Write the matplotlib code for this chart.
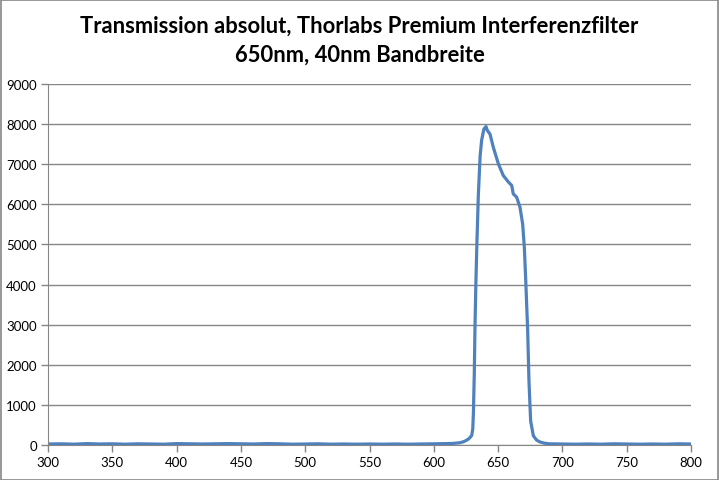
import matplotlib
matplotlib.use('Agg')
import matplotlib.pyplot as plt
from matplotlib.patches import Rectangle

wavelength = [300, 310, 320, 330, 340, 350, 360, 370, 380, 390, 400, 410, 420, 430,
              440, 450, 460, 470, 480, 490, 500, 510, 520, 530, 540, 550, 560, 570,
              580, 590, 600, 610, 615, 620, 623, 625, 627, 628, 629.5, 630.3, 630.8,
              631.5, 632, 632.7, 633.4, 634.6, 636, 637.2, 639, 640.6, 641.5, 643.7,
              646.3, 650.2, 654, 657.9, 660.6, 661.8, 664.4, 667, 669.1, 670.4, 671.5,
              673, 674, 675.3, 677.4, 680, 682.6, 686, 690, 700, 710, 720, 730, 740,
              750, 760, 770, 780, 790, 800]
counts = [25, 30, 20, 35, 25, 30, 20, 30, 25, 20, 35, 30, 25, 30,
          35, 30, 25, 35, 30, 20, 25, 30, 20, 25, 20, 25, 20, 25,
          20, 25, 30, 35, 40, 55, 80, 110, 150, 180, 240, 400, 800,
          1800, 2900, 4000, 4900, 6200, 7200, 7600, 7880, 7940, 7850, 7750,
          7420, 7010, 6720, 6560, 6470, 6260, 6180, 5930, 5510, 4930, 4100,
          2850, 1600, 600, 230, 120, 75, 45, 30, 25, 20, 25, 20, 30,
          25, 20, 25, 20, 30, 25]

title = 'Transmission absolut, Thorlabs Premium Interferenzfilter\n650nm, 40nm Bandbreite'
xticks = [300, 350, 400, 450, 500, 550, 600, 650, 700, 750, 800]
yticks = [0, 1000, 2000, 3000, 4000, 5000, 6000, 7000, 8000, 9000]

plt.rcParams['font.family'] = ['Lato', 'DejaVu Sans']

fig = plt.figure(figsize=(7.19, 4.81), dpi=100)
ax = fig.add_axes([48/719, 1-446/481, 643/719, 361/481])

ax.plot(wavelength, counts, color='#4F81BD', linewidth=2.3, solid_joinstyle='round')

ax.set_xlim(300, 800)
ax.set_ylim(0, 9000)
ax.set_xticks(xticks)
ax.set_yticks(yticks)
ax.tick_params(axis='both', labelsize=9.5, color='#868686', length=5, width=1,
               direction='out', pad=3)
ax.grid(axis='y', color='#868686', linewidth=1)
ax.set_axisbelow(True)
for s in ['top', 'right']:
    ax.spines[s].set_visible(False)
for s in ['left', 'bottom']:
    ax.spines[s].set_color('#868686')
ax.spines['bottom'].set_zorder(1)

fig.text(0.5, 1-41/481, title, ha='center', va='center', fontsize=15.8,
         fontweight='bold', linespacing=1.45)

fig.patches.append(Rectangle((0.001, 0.001), 0.997, 0.997, transform=fig.transFigure,
                             fill=False, edgecolor='#868686', linewidth=1.2))

fig.savefig('out.png', dpi=100)
